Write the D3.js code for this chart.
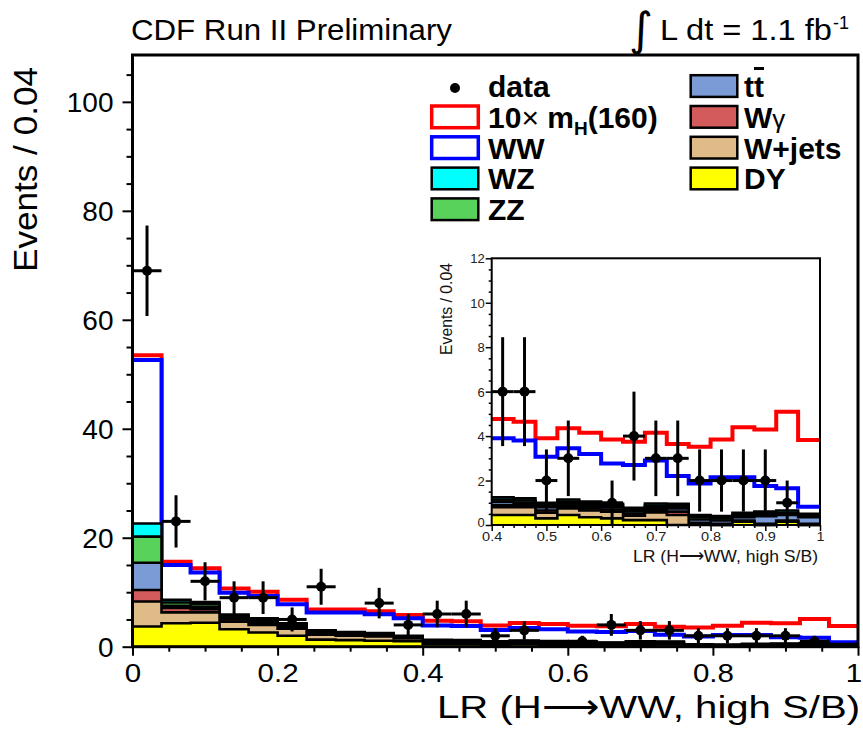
<!DOCTYPE html>
<html>
<head>
<meta charset="utf-8">
<script src="https://cdn.jsdelivr.net/npm/d3@7"></script>
<style>
  html, body { margin: 0; padding: 0; background: #fff; }
  svg { display: block; }
</style>
</head>
<body>
<svg id="chart" width="863" height="740"></svg>
<script>
// ---- binning: 25 bins of width 0.04 in LR ----
const binLow = [0.00, 0.04, 0.08, 0.12, 0.16, 0.20, 0.24, 0.28, 0.32, 0.36,
                0.40, 0.44, 0.48, 0.52, 0.56, 0.60, 0.64, 0.68, 0.72, 0.76,
                0.80, 0.84, 0.88, 0.92, 0.96];
const binWidth = 0.04;

// ---- observed events and their uncertainties ----
const dataCounts = [69, 23, 12, 9, 9, 5, 11, 0, 8, 4, 6, 6, 2, 3, 0, 1, 4, 3, 3, 2, 2, 2, 2, 1, 0];
const dataErrors = [8.3, 4.8, 3.5, 3.0, 3.0, 2.2, 3.3, 0, 2.8, 2.0, 2.45, 2.45, 1.4, 1.7, 0, 1.0,
                    2.0, 1.7, 1.7, 1.4, 1.4, 1.4, 1.4, 1.0, 0];

// ---- expected backgrounds (stacked, bottom to top) ----
const dy     = [3.7, 4.3, 4.4, 3.2, 2.6, 2.0, 1.3, 1.2, 1.1, 1.0, 0.45, 0.45, 0.3, 0.45, 0.35, 0.3,
                0.22, 0.22, 0, 0, 0, 0.15, 0, 0.15, 0];
const wjets  = [4.6, 2.0, 1.9, 1.4, 1.4, 1.3, 0.9, 0.8, 0.8, 0.5, 0.35, 0.35, 0.25, 0.3, 0.3, 0.3,
                0.2, 0.35, 0.45, 0.05, 0, 0, 0, 0, 0];
const wgamma = [2.1, 0.8, 0.6, 0.4, 0.3, 0.3, 0.2, 0.2, 0.2, 0.15, 0.1, 0.1, 0.1, 0.1, 0.1, 0.1,
                0.1, 0.1, 0.15, 0.05, 0.05, 0.05, 0.05, 0.05, 0.05];
const ttbar  = [5.0, 0.4, 0.4, 0.3, 0.3, 0.3, 0.2, 0.2, 0.2, 0.15, 0.15, 0.1, 0.15, 0.1, 0.1, 0.1,
                0.1, 0.1, 0.15, 0.15, 0.15, 0.15, 0.35, 0.25, 0.3];
const zz     = [4.8, 0.6, 0.5, 0.3, 0.3, 0.2, 0.2, 0.2, 0.1, 0.1, 0.1, 0.1, 0.1, 0.1, 0.1, 0.1,
                0.1, 0.1, 0.1, 0.1, 0.1, 0.1, 0.1, 0.1, 0.05];
const wz     = [2.4, 0.5, 0.4, 0.3, 0.3, 0.2, 0.2, 0.1, 0.1, 0.1, 0.1, 0.1, 0.1, 0.1, 0.1, 0.05,
                0.05, 0.1, 0.1, 0.1, 0.1, 0.1, 0.1, 0.1, 0.1];
const ww     = [30.0, 6.4, 5.4, 4.0, 4.1, 3.5, 3.3, 3.6, 3.45, 3.2, 2.65, 2.6, 2.07, 2.3, 2.15, 1.82,
                1.93, 1.93, 1.25, 1.42, 1.75, 1.6, 1.15, 1.0, 0.32];
// Higgs signal (m_H = 160), scaled by 10, stacked on top of the total expectation
const signal10 = [0.9, 0.6, 0.8, 0.8, 0.8, 0.8, 0.55, 0.55, 0.55, 0.6, 0.87, 0.85, 0.83, 0.9, 0.95, 1.08,
                  1.05, 1.25, 1.45, 1.65, 1.7, 2.25, 2.55, 3.45, 3.0];

// ---- axis ticks ----
const xMajor = [0, 0.2, 0.4, 0.6, 0.8, 1];
const xMajorLabels = ["0", "0.2", "0.4", "0.6", "0.8", "1"];
const yMajor = [0, 20, 40, 60, 80, 100];
const yMajorLabels = ["0", "20", "40", "60", "80", "100"];
const xInsetMajor = [0.4, 0.5, 0.6, 0.7, 0.8, 0.9, 1.0];
const xInsetLabels = ["0.4", "0.5", "0.6", "0.7", "0.8", "0.9", "1"];
const yInsetMajor = [0, 2, 4, 6, 8, 10, 12];
const yInsetLabels = ["0", "2", "4", "6", "8", "10", "12"];

// ---- drawing ----
const FONT = '"Liberation Sans", Arial, Helvetica, sans-serif';
const svg = d3.select("#chart");

const layers = [
  { key: "DY",     values: dy,       fill: "#ffff00", stroke: "#000",    lw: 2.6 },
  { key: "Wjets",  values: wjets,    fill: "#dfbb88", stroke: "#000",    lw: 2.6 },
  { key: "Wgamma", values: wgamma,   fill: "#d35b5b", stroke: "#000",    lw: 2.6 },
  { key: "ttbar",  values: ttbar,    fill: "#7b9bd6", stroke: "#000",    lw: 2.6 },
  { key: "ZZ",     values: zz,       fill: "#58d25a", stroke: "#000",    lw: 2.6 },
  { key: "WZ",     values: wz,       fill: "#00ffff", stroke: "#000",    lw: 2.6 },
  { key: "WW",     values: ww,       fill: "#ffffff", stroke: "#0000ff", lw: 4 },
  { key: "signal", values: signal10, fill: "#ffffff", stroke: "#ff0000", lw: 4 }
];

const rows = binLow.map((lo, i) => {
  const r = { lo };
  layers.forEach(l => { r[l.key] = l.values[i]; });
  return r;
});
const series = d3.stack().keys(layers.map(l => l.key))(rows);

function drawStack(g, xs, ys, firstBin) {
  const last = binLow.length - 1;
  const area = d3.area().x(d => xs(d[0])).y0(ys(0)).y1(d => ys(d[1])).curve(d3.curveStepAfter);
  const line = d3.line().x(d => xs(d[0])).y(d => ys(d[1])).curve(d3.curveStepAfter);
  // the largest cumulative sum is painted first, each lower layer on top of it
  for (let k = series.length - 1; k >= 0; k--) {
    const s = series[k];
    const pts = [];
    for (let i = firstBin; i <= last; i++) pts.push([binLow[i], s[i][1]]);
    pts.push([binLow[last] + binWidth, s[last][1]]);
    g.append("path").attr("d", area(pts)).attr("fill", layers[k].fill).attr("stroke", "none");
    g.append("path").attr("d", line(pts)).attr("fill", "none")
      .attr("stroke", layers[k].stroke).attr("stroke-width", layers[k].lw)
      .attr("stroke-linejoin", "miter");
  }
}

function drawData(g, xs, ys, firstBin, r) {
  for (let i = firstBin; i < binLow.length; i++) {
    const n = dataCounts[i];
    if (n <= 0) continue;
    const e = dataErrors[i];
    const cx = xs(binLow[i] + binWidth / 2);
    g.append("line").attr("x1", cx).attr("x2", cx)
      .attr("y1", ys(Math.max(0, n - e))).attr("y2", ys(n + e))
      .attr("stroke", "#000").attr("stroke-width", 3);
    g.append("line").attr("x1", xs(binLow[i])).attr("x2", xs(binLow[i] + binWidth))
      .attr("y1", ys(n)).attr("y2", ys(n))
      .attr("stroke", "#000").attr("stroke-width", 3);
    g.append("circle").attr("cx", cx).attr("cy", ys(n)).attr("r", r).attr("fill", "#000");
  }
}

function styleTicks(g, width) {
  g.select(".domain").remove();
  g.selectAll("line").attr("stroke", "#000").attr("stroke-width", width);
}

// ================= main panel =================
const xMain = d3.scaleLinear().domain([0, 1]).range([132.5, 858]);
const yMain = d3.scaleLinear().domain([0, 108.6]).range([646.7, 55]);

const gMain = svg.append("g");
drawStack(gMain, xMain, yMain, 0);
drawData(gMain, xMain, yMain, 0, 5);

// minor + major ticks (outside the frame)
const xMinorMain = d3.range(0.05, 1, 0.05).filter(v => Math.abs(v / 0.2 - Math.round(v / 0.2)) > 1e-6);
const yMinorMain = d3.range(5, 108, 5).filter(v => v % 20 !== 0);

styleTicks(svg.append("g").attr("transform", `translate(0,${yMain(0)})`)
  .call(d3.axisBottom(xMain).tickValues(xMinorMain).tickFormat("").tickSize(5)), 2);
const gxMain = svg.append("g").attr("transform", `translate(0,${yMain(0)})`)
  .call(d3.axisBottom(xMain).tickValues(xMajor).tickFormat((d, i) => xMajorLabels[i]).tickSize(9));
styleTicks(gxMain, 2);
gxMain.selectAll("text").attr("y", 35.3).attr("dy", 0).attr("fill", "#000")
  .attr("transform", "scale(1.18,1)")
  .style("font-family", FONT).style("font-size", "25px");
// the label at the right edge is kept inside the page
gxMain.selectAll("text").filter((d, i) => i === xMajor.length - 1)
  .attr("text-anchor", "end").attr("x", 3);

styleTicks(svg.append("g").attr("transform", `translate(${xMain(0)},0)`)
  .call(d3.axisLeft(yMain).tickValues(yMinorMain).tickFormat("").tickSize(6)), 2);
const gyMain = svg.append("g").attr("transform", `translate(${xMain(0)},0)`)
  .call(d3.axisLeft(yMain).tickValues(yMajor).tickFormat((d, i) => yMajorLabels[i]).tickSize(10));
styleTicks(gyMain, 2);
gyMain.selectAll("text").attr("x", -19).attr("dy", "0.36em").attr("fill", "#000")
  .style("font-family", FONT).style("font-size", "28px");

svg.append("rect")
  .attr("x", xMain(0)).attr("y", yMain(108.6))
  .attr("width", xMain(1) - xMain(0)).attr("height", yMain(0) - yMain(108.6))
  .attr("fill", "none").attr("stroke", "#000").attr("stroke-width", 3);

// ================= legend =================
const legendLeft = [
  { label: "data", kind: "marker" },
  { label: "signal", kind: "box", fill: "#ffffff", stroke: "#ff0000", lw: 3.5 },
  { label: "WW", kind: "box", fill: "#ffffff", stroke: "#0000ff", lw: 3.5 },
  { label: "WZ", kind: "box", fill: "#00ffff", stroke: "#000", lw: 2.5 },
  { label: "ZZ", kind: "box", fill: "#58d25a", stroke: "#000", lw: 2.5 }
];
const legendRight = [
  { label: "ttbar", kind: "box", fill: "#7b9bd6", stroke: "#000", lw: 2.5 },
  { label: "Wgamma", kind: "box", fill: "#d35b5b", stroke: "#000", lw: 2.5 },
  { label: "W+jets", kind: "box", fill: "#dfbb88", stroke: "#000", lw: 2.5 },
  { label: "DY", kind: "box", fill: "#ffff00", stroke: "#000", lw: 2.5 }
];

function legendText(t, label) {
  if (label === "signal") {
    t.append("tspan").text("10");
    t.append("tspan").attr("font-weight", "normal").text("×");
    t.append("tspan").text(" m");
    t.append("tspan").attr("font-size", "19px").attr("dy", 7).text("H");
    t.append("tspan").attr("dy", -7).text("(160)");
  } else if (label === "ttbar") {
    t.append("tspan").text("t");
    t.append("tspan").style("text-decoration", "overline").text("t");
  } else if (label === "Wgamma") {
    t.append("tspan").text("W");
    t.append("tspan").attr("font-weight", "normal").attr("font-size", "26px").text("γ");
  } else {
    t.text(label);
  }
}

function drawLegendColumn(entries, boxX, textX) {
  entries.forEach((e, i) => {
    const cy = 86 + 30.8 * i;
    if (e.kind === "marker") {
      svg.append("circle").attr("cx", (boxX + boxX + 46.6) / 2).attr("cy", cy + 2).attr("r", 5).attr("fill", "#000");
    } else {
      svg.append("rect").attr("x", boxX).attr("y", cy - 10.8).attr("width", 46.6).attr("height", 21.7)
        .attr("fill", e.fill).attr("stroke", e.stroke).attr("stroke-width", e.lw);
    }
    const t = svg.append("text").attr("x", textX).attr("y", cy + 11)
      .attr("font-family", FONT).attr("font-size", "30px").attr("font-weight", "bold").attr("fill", "#000");
    legendText(t, e.label);
  });
}
drawLegendColumn(legendLeft, 431.7, 488);
drawLegendColumn(legendRight, 690.7, 744);

// ================= inset (zoom on LR > 0.4) =================
const xIn = d3.scaleLinear().domain([0.4, 1]).range([491.7, 820]);
const yIn = d3.scaleLinear().domain([0, 12]).range([525, 258.3]);

svg.append("rect").attr("x", 425).attr("y", 246).attr("width", 405).attr("height", 322).attr("fill", "#fff");

const gIn = svg.append("g");
drawStack(gIn, xIn, yIn, 10);
drawData(gIn, xIn, yIn, 10, 5);

const xMinorIn = d3.range(0.42, 1.0, 0.02).filter(v => Math.abs(v * 10 - Math.round(v * 10)) > 1e-6);
const yMinorIn = d3.range(0.5, 12, 0.5).filter(v => v % 2 !== 0);

styleTicks(svg.append("g").attr("transform", `translate(0,${yIn(0)})`)
  .call(d3.axisBottom(xIn).tickValues(xMinorIn).tickFormat("").tickSize(3)), 1.5);
const gxIn = svg.append("g").attr("transform", `translate(0,${yIn(0)})`)
  .call(d3.axisBottom(xIn).tickValues(xInsetMajor).tickFormat((d, i) => xInsetLabels[i]).tickSize(6));
styleTicks(gxIn, 1.5);
gxIn.selectAll("text").attr("y", 16.5).attr("dy", 0).attr("fill", "#222")
  .attr("transform", "scale(1.12,1)")
  .style("font-family", FONT).style("font-size", "13px");

styleTicks(svg.append("g").attr("transform", `translate(${xIn(0.4)},0)`)
  .call(d3.axisLeft(yIn).tickValues(yMinorIn).tickFormat("").tickSize(3)), 1.5);
const gyIn = svg.append("g").attr("transform", `translate(${xIn(0.4)},0)`)
  .call(d3.axisLeft(yIn).tickValues(yInsetMajor).tickFormat((d, i) => yInsetLabels[i]).tickSize(6));
styleTicks(gyIn, 1.5);
gyIn.selectAll("text").attr("x", -7).attr("dy", "0.36em").attr("fill", "#222")
  .style("font-family", FONT).style("font-size", "13px");
// lift the zero label a little so it clears the first x label
gyIn.selectAll("text").filter((d, i) => i === 0).attr("dy", "0.1em");

svg.append("rect")
  .attr("x", xIn(0.4)).attr("y", yIn(12))
  .attr("width", xIn(1) - xIn(0.4)).attr("height", yIn(0) - yIn(12))
  .attr("fill", "none").attr("stroke", "#000").attr("stroke-width", 2);

svg.append("text")
  .attr("transform", "translate(452,263) rotate(-90)")
  .attr("text-anchor", "end").attr("textLength", 92).attr("lengthAdjust", "spacingAndGlyphs")
  .attr("font-family", FONT).attr("font-size", "16px").attr("fill", "#111")
  .text("Events / 0.04");
svg.append("text")
  .attr("x", 633).attr("y", 562)
  .attr("textLength", 185).attr("lengthAdjust", "spacingAndGlyphs")
  .attr("font-family", FONT).attr("font-size", "17px").attr("fill", "#111")
  .text("LR (H⟶WW, high S/B)");

// ================= titles =================
svg.append("text")
  .attr("x", 131).attr("y", 40)
  .attr("textLength", 321).attr("lengthAdjust", "spacingAndGlyphs")
  .attr("font-family", FONT).attr("font-size", "30px").attr("fill", "#000")
  .text("CDF Run II Preliminary");

svg.append("text")
  .attr("x", 629).attr("y", 45)
  .attr("font-family", '"DejaVu Sans", sans-serif').attr("font-size", "46px").attr("fill", "#000")
  .text("∫");
svg.append("text")
  .attr("x", 660).attr("y", 40)
  .attr("textLength", 172).attr("lengthAdjust", "spacingAndGlyphs")
  .attr("font-family", FONT).attr("font-size", "30px").attr("fill", "#000")
  .text("L dt = 1.1 fb");
svg.append("text")
  .attr("x", 833).attr("y", 29)
  .attr("font-family", FONT).attr("font-size", "18px").attr("fill", "#000")
  .text("-1");

svg.append("text")
  .attr("transform", "translate(37,67) rotate(-90)")
  .attr("text-anchor", "end").attr("textLength", 205).attr("lengthAdjust", "spacingAndGlyphs")
  .attr("font-family", FONT).attr("font-size", "34px").attr("fill", "#000")
  .text("Events / 0.04");

svg.append("text")
  .attr("x", 437).attr("y", 718)
  .attr("textLength", 423).attr("lengthAdjust", "spacingAndGlyphs")
  .attr("font-family", FONT).attr("font-size", "32px").attr("fill", "#000")
  .text("LR (H⟶WW, high S/B)");
</script>
</body>
</html>
